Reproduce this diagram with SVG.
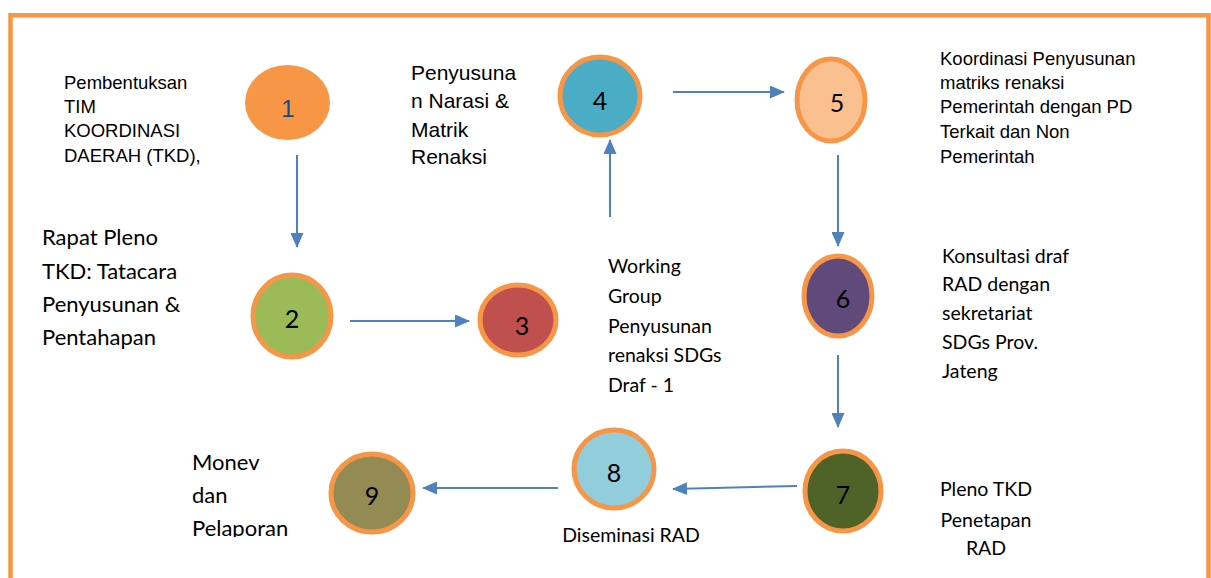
<svg xmlns="http://www.w3.org/2000/svg" width="1211" height="578" viewBox="0 0 1211 578">
<style>
.frame{fill:none;stroke:#F79646;stroke-width:4.5}
.node{stroke:#F79646;stroke-width:5}
.num{font-family:Lato,"Liberation Sans",sans-serif;font-size:25px;fill:#000;text-anchor:middle}
.arial{font-family:"Liberation Sans",Arial,sans-serif;fill:#000}
.cal{font-family:Lato,"Liberation Sans",sans-serif;fill:#000}
.conn line{stroke:#4F81BD;stroke-width:2;marker-end:url(#ah)}
</style>
<defs>
<marker id="ah" viewBox="0 0 15 13" refX="14" refY="6.5" markerWidth="15" markerHeight="13" markerUnits="userSpaceOnUse" orient="auto">
<path d="M0,0 L15,6.5 L0,13 Z" fill="#4F81BD"/>
</marker>
<clipPath id="c9"><rect x="328" y="400" width="200" height="150"/></clipPath>
<clipPath id="cmon"><rect x="150" y="440" width="200" height="97"/></clipPath>
</defs>
<rect width="1211" height="578" fill="#fff"/>
<rect class="frame" x="10.5" y="15.3" width="1198" height="620"/>

<g id="connectors" class="conn">
<line x1="297" y1="155" x2="297" y2="247"/>
<line x1="350" y1="321" x2="469" y2="321"/>
<line x1="610" y1="217" x2="610" y2="140"/>
<line x1="673" y1="92" x2="784" y2="92"/>
<line x1="838" y1="155" x2="838" y2="246"/>
<line x1="838" y1="355" x2="838" y2="427"/>
<line x1="797" y1="486" x2="673" y2="489"/>
<line x1="558" y1="488" x2="423" y2="488"/>
</g>

<g id="node1">
<ellipse cx="287.5" cy="102.5" rx="42.5" ry="37.5" fill="#F79646"/>
<text x="288" y="117" font-family="Liberation Sans,Arial,sans-serif" font-size="24" fill="#1F497D" text-anchor="middle">1</text>
<text class="arial" font-size="18.5" x="64"><tspan x="64" y="89">Pembentuksan</tspan><tspan x="64" y="113">TIM</tspan><tspan x="64" y="137">KOORDINASI</tspan><tspan x="64" y="162">DAERAH (TKD),</tspan></text>
</g>

<g id="node2">
<ellipse class="node" cx="292" cy="316" rx="39" ry="41" fill="#9BBB59"/>
<text class="num" x="292" y="328">2</text>
<text class="cal" font-size="22"><tspan x="42" y="245">Rapat Pleno</tspan><tspan x="42" y="279">TKD: Tatacara</tspan><tspan x="42" y="312">Penyusunan &amp;</tspan><tspan x="42" y="345">Pentahapan</tspan></text>
</g>

<g id="node3">
<ellipse class="node" cx="518" cy="320" rx="38" ry="35" fill="#C0504D"/>
<text class="num" x="522" y="335">3</text>
<text class="cal" font-size="19.5"><tspan x="608" y="273">Working</tspan><tspan x="608" y="303">Group</tspan><tspan x="608" y="333">Penyusunan</tspan><tspan x="608" y="362">renaksi SDGs</tspan><tspan x="608" y="392">Draf - 1</tspan></text>
</g>

<g id="node4">
<ellipse class="node" cx="600" cy="96" rx="40" ry="39" fill="#4BACC6"/>
<text class="num" x="600" y="110">4</text>
<text class="arial" font-size="21"><tspan x="411" y="80">Penyusuna</tspan><tspan x="411" y="108">n Narasi &amp;</tspan><tspan x="411" y="137">Matrik</tspan><tspan x="411" y="164">Renaksi</tspan></text>
</g>

<g id="node5">
<ellipse class="node" cx="831" cy="100" rx="34" ry="41" fill="#FAC090"/>
<text class="num" x="837" y="112">5</text>
<text class="arial" font-size="18.5"><tspan x="940" y="65">Koordinasi Penyusunan</tspan><tspan x="940" y="89">matriks renaksi</tspan><tspan x="940" y="113">Pemerintah dengan PD</tspan><tspan x="940" y="138">Terkait dan Non</tspan><tspan x="940" y="163">Pemerintah</tspan></text>
</g>

<g id="node6">
<ellipse class="node" cx="838" cy="296" rx="34" ry="40" fill="#604A7B"/>
<text class="num" x="843" y="308">6</text>
<text class="cal" font-size="19.5"><tspan x="942" y="263">Konsultasi draf</tspan><tspan x="942" y="291">RAD dengan</tspan><tspan x="942" y="320">sekretariat</tspan><tspan x="942" y="349">SDGs Prov.</tspan><tspan x="942" y="378">Jateng</tspan></text>
</g>

<g id="node7">
<ellipse class="node" cx="843" cy="491" rx="38" ry="40" fill="#4F6228"/>
<text class="num" x="843" y="504">7</text>
<text class="cal" font-size="19.5" text-anchor="middle"><tspan x="986" y="496">Pleno TKD</tspan><tspan x="986" y="527">Penetapan</tspan><tspan x="986" y="555">RAD</tspan></text>
</g>

<g id="node8">
<ellipse class="node" cx="614" cy="469" rx="40" ry="39" fill="#92CDDC"/>
<text class="num" x="614" y="482">8</text>
<text class="cal" font-size="19.5" x="631" y="542" text-anchor="middle">Diseminasi RAD</text>
</g>

<g id="node9">
<ellipse class="node" cx="372" cy="493" rx="41" ry="39" fill="#948A54" clip-path="url(#c9)"/>
<text class="num" x="372" y="505">9</text>
<text class="cal" font-size="22" clip-path="url(#cmon)"><tspan x="192" y="470">Monev</tspan><tspan x="192" y="503">dan</tspan><tspan x="192" y="536">Pelaporan</tspan></text>
</g>
</svg>
